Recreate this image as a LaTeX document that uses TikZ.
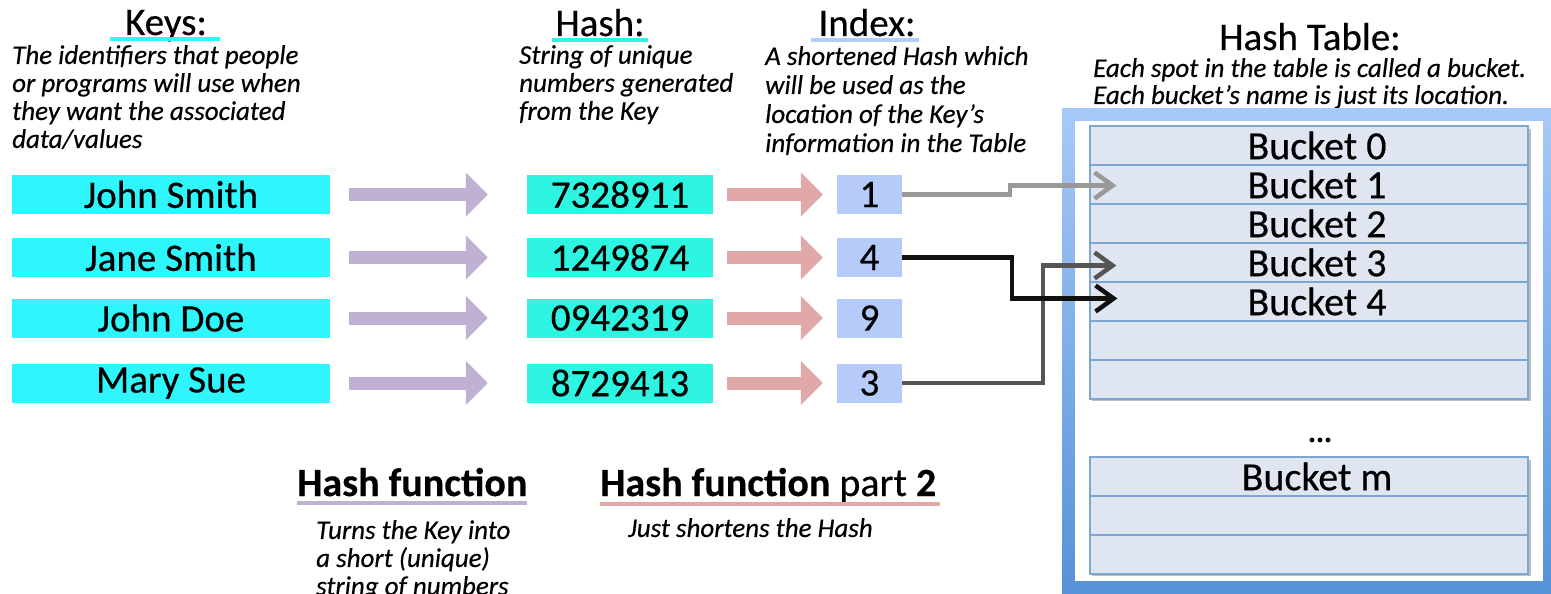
\documentclass[tikz,border=0pt]{standalone}
\usepackage{fontspec}
\setmainfont{Carlito}[FakeBold=0.4]
\usetikzlibrary{arrows.meta,calc}
\definecolor{keycyan}{RGB}{46,246,252}
\definecolor{hashturq}{RGB}{46,245,226}
\definecolor{idxblue}{RGB}{181,204,251}
\definecolor{purplearr}{RGB}{192,176,212}
\definecolor{pinkarr}{RGB}{224,168,166}
\definecolor{bucketfill}{RGB}{223,230,241}
\definecolor{bucketline}{RGB}{124,166,212}
\definecolor{frametop}{RGB}{167,201,247}
\definecolor{framebot}{RGB}{86,146,216}
\definecolor{lineA}{RGB}{153,153,153}
\definecolor{lineB}{RGB}{17,17,17}
\definecolor{lineC}{RGB}{85,85,85}
\begin{document}
\begin{tikzpicture}[x=1pt,y=-1pt,
  box/.style={inner sep=0pt, minimum height=39pt, font=\fontsize{39}{42}\selectfont, text=black},
  keybox/.style={box, fill=keycyan, minimum width=318pt},
  hashbox/.style={box, fill=hashturq, minimum width=186pt},
  idxbox/.style={box, fill=idxblue, minimum width=65pt},
  title/.style={anchor=base, inner sep=0pt, font=\fontsize{39}{44}\selectfont},
  desc/.style={anchor=north west, inner sep=0pt, align=left, font=\fontsize{27}{28}\selectfont\itshape},
  uline/.style={line width=4pt},
  fatarrow/.style={line width=13pt, -{Triangle[length=22pt,width=43pt]}},
  bucket/.style={draw=bucketline, line width=1.2pt, fill=bucketfill, minimum width=438pt, minimum height=39pt, inner sep=0pt, font=\fontsize{40}{42}\selectfont},
  conn/.style={line width=4.5pt, -{Straight Barb[length=18pt,width=26pt]}},
  subhead/.style={anchor=base west, inner sep=0pt, font=\fontsize{40}{44}\selectfont}
]
\useasboundingbox (0,0) rectangle (1551,594);
\fill[white] (0,0) rectangle (1551,594);

% ---- headers ----
\node[title] (tkeys) at (166,35) {Keys:};
\draw[uline, keycyan] (110,39.5) -- (220,39.5);
\node[title] (thash) at (600,36) {Hash:};
\draw[uline, hashturq] (552,40.5) -- (648,40.5);
\node[title] (tidx) at (867,36) {Index:};
\draw[uline, idxblue] (811,40.5) -- (919,40.5);
\node[title] (ttab) at (1310,50) {Hash Table:};

\node[desc] (dkeys) at (12,45) {The identifiers that people\\or programs will use when\\they want the associated\\data/values};
\node[desc] (dhash) at (519,45) {String of unique\\numbers generated\\from the Key};
\node[desc, font=\fontsize{27}{29}\selectfont\itshape] (didx) at (765,46) {A shortened Hash which\\will be used as the\\location of the Key’s\\information in the Table};
\node[desc, font=\fontsize{27}{27}\selectfont\itshape] (dtab) at (1093,58) {Each spot in the table is called a bucket.\\Each bucket’s name is just its location.};

% ---- rows ----
\node[keybox] (k1) at (171,194.5) {John Smith};
\node[keybox] (k2) at (171,257.5) {Jane Smith};
\node[keybox] (k3) at (171,318) {John Doe};
\node[keybox] (k4) at (171,383) {Mary Sue};

\node[hashbox] (h1) at (620,194.5) {7328911};
\node[hashbox] (h2) at (620,257.5) {1249874};
\node[hashbox] (h3) at (620,318) {0942319};
\node[hashbox] (h4) at (620,383) {8729413};

\node[idxbox] (i1) at (869.5,194.5) {1};
\node[idxbox] (i2) at (869.5,257.5) {4};
\node[idxbox] (i3) at (869.5,318) {9};
\node[idxbox] (i4) at (869.5,383) {3};

\foreach \n in {1,2,3,4}{
  \draw[fatarrow, purplearr] ($(k\n.east)+(19,0)$) -- ($(h\n.west)+(-39,0)$);
  \draw[fatarrow, pinkarr] ($(h\n.east)+(14,0)$) -- ($(i\n.west)+(-14,0)$);
}

% ---- hash table frame ----
\shade[top color=frametop, bottom color=framebot] (1062,108) rectangle (1560,593);
\fill[white] (1075,121) rectangle (1543,581);
\fill[black, opacity=0.25] (1092,129) rectangle (1531,401);
\fill[black, opacity=0.25] (1092,460) rectangle (1531,576);

\node[bucket] (b0) at (1309,145.5) {\hspace*{16pt}Bucket 0};
\node[bucket] (b1) at (1309,184.5) {\hspace*{16pt}Bucket 1};
\node[bucket] (b2) at (1309,223.5) {\hspace*{16pt}Bucket 2};
\node[bucket] (b3) at (1309,262.5) {\hspace*{16pt}Bucket 3};
\node[bucket] (b4) at (1309,301.5) {\hspace*{16pt}Bucket 4};
\node[bucket] (b5) at (1309,340.5) {};
\node[bucket] (b6) at (1309,379.5) {};

\node[inner sep=0pt, font=\fontsize{30}{34}\selectfont\bfseries] (dots) at (1320,440) {...};

\node[bucket] (m0) at (1309,476.5) {\hspace*{16pt}Bucket m};
\node[bucket] (m1) at (1309,515.5) {};
\node[bucket] (m2) at (1309,554.5) {};

% ---- connectors ----
\draw[conn, lineC] (i4.east) -- ++(141,0) |- ($(b3.west)+(27,3)$);
\draw[conn, lineA] (i1.east) -- ++(108,0) |- ($(b1.west)+(27,1)$);
\draw[conn, lineB] (i2.east) -- ++(110,0) |- ($(b4.west)+(28,-3)$);

% ---- bottom labels ----
\node[subhead] (hf1) at (297,496) {\bfseries Hash function};
\draw[uline, purplearr] (297,503) -- (527,503);
\node[subhead] (hf2) at (600,496) {\textbf{Hash function} part \textbf{2}};
\draw[uline, pinkarr] (600,504) -- (940,504);
\node[desc] (dhf1) at (316,520) {Turns the Key into\\a short (unique)\\string of numbers};
\node[desc] (dhf2) at (628,518) {Just shortens the Hash};
\end{tikzpicture}
\end{document}
